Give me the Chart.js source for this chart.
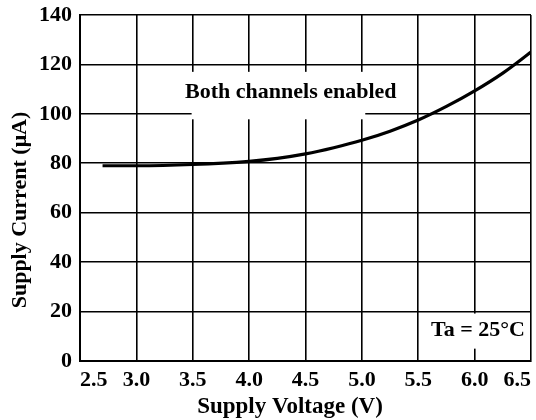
<!DOCTYPE html>
<html><head><meta charset="utf-8">
<script src="https://cdn.jsdelivr.net/npm/chart.js@4"></script>
<style>html,body{margin:0;padding:0;background:#fff}#wrap{width:536px;height:420px}</style>
</head><body><div id="wrap"><canvas id="c"></canvas></div>
<script>
const voltage = [2.7, 3.0, 3.5, 4.0, 4.25, 4.5, 4.75, 5.0, 5.25, 5.5, 5.75, 6.0, 6.25, 6.5];
const current = [79, 79, 79.5, 80.8, 82, 83.8, 86.3, 89.3, 93, 97.5, 103, 109.3, 116.5, 125];
const xTicks = [2.5, 3.0, 3.5, 4.0, 4.5, 5.0, 5.5, 6.0, 6.5];
const yTicks = [0, 20, 40, 60, 80, 100, 120, 140];
const xTitle = 'Supply Voltage (V)';
const yTitle = 'Supply Current (\u03BCA)';
const noteMain = 'Both channels enabled';
const noteTemp = 'Ta = 25\u00B0C';

const FONT = '"Liberation Serif", "Times New Roman", serif';

const notes = {
  id: 'notes',
  beforeDatasetsDraw(chart) {
    const {ctx, scales: {x, y}} = chart;
    ctx.save();
    ctx.fillStyle = '#fff';
    let l = x.getPixelForValue(3.49), r = x.getPixelForValue(5.03);
    let t = y.getPixelForValue(117), b = y.getPixelForValue(97.8);
    ctx.fillRect(l, t, r - l, b - t);
    l = x.getPixelForValue(5.8); r = x.getPixelForValue(6.47);
    t = y.getPixelForValue(19.2); b = y.getPixelForValue(5);
    ctx.fillRect(l, t, r - l, b - t);
    ctx.fillStyle = '#000';
    ctx.font = 'bold 22px ' + FONT;
    ctx.textAlign = 'center';
    ctx.textBaseline = 'middle';
    ctx.fillText(noteMain, x.getPixelForValue(4.37), y.getPixelForValue(108.8));
    ctx.fillText(noteTemp, x.getPixelForValue(6.03), y.getPixelForValue(12.3));
    ctx.restore();
  },
  afterDraw(chart) {
    const {ctx, chartArea} = chart;
    ctx.save();
    ctx.fillStyle = '#000';
    ctx.textAlign = 'center';
    ctx.textBaseline = 'middle';
    ctx.font = 'bold 23px ' + FONT;
    ctx.fillText(xTitle, chartArea.left + 210, chart.height - 13);
    ctx.font = 'bold 22px ' + FONT;
    ctx.translate(20, chartArea.top + 195);
    ctx.rotate(-Math.PI / 2);
    ctx.fillText(yTitle, 0, 0);
    ctx.restore();
  }
};

new Chart(document.getElementById('c'), {
  type: 'scatter',
  data: {
    datasets: [{
      data: voltage.map((v, i) => ({x: v, y: current[i]})),
      showLine: true,
      borderColor: '#000',
      borderWidth: 3.2,
      pointRadius: 0,
      tension: 0.4,
      cubicInterpolationMode: 'monotone',
      fill: false
    }]
  },
  options: {
    responsive: true,
    maintainAspectRatio: false,
    animation: false,
    layout: {padding: {top: 15, right: 5, left: 0, bottom: 0}},
    plugins: {legend: {display: false}, tooltip: {enabled: false}},
    scales: {
      x: {
        type: 'linear', min: 2.5, max: 6.5,
        afterBuildTicks: s => { s.ticks = xTicks.map(v => ({value: v})); },
        afterFit: s => { s.height = 59; s.paddingLeft = 0; s.paddingRight = 0; },
        grid: {color: '#000', lineWidth: 1.6, drawTicks: false},
        border: {color: '#000', width: 2},
        ticks: {
          color: '#000', padding: 6, align: 'inner', maxRotation: 0,
          font: {family: FONT, size: 22, weight: 'bold'},
          callback: v => Number(v).toFixed(1)
        },
        title: {display: false, text: xTitle}
      },
      y: {
        min: 0, max: 140,
        afterBuildTicks: s => { s.ticks = yTicks.map(v => ({value: v})); },
        afterFit: s => { s.width = 80; s.paddingTop = 0; s.paddingBottom = 0; },
        grid: {color: '#000', lineWidth: 1.6, drawTicks: false},
        border: {color: '#000', width: 2},
        ticks: {
          color: '#000', padding: 8,
          font: {family: FONT, size: 22, weight: 'bold'}
        },
        title: {display: false, text: yTitle}
      }
    }
  },
  plugins: [notes]
});
</script>
</body></html>
